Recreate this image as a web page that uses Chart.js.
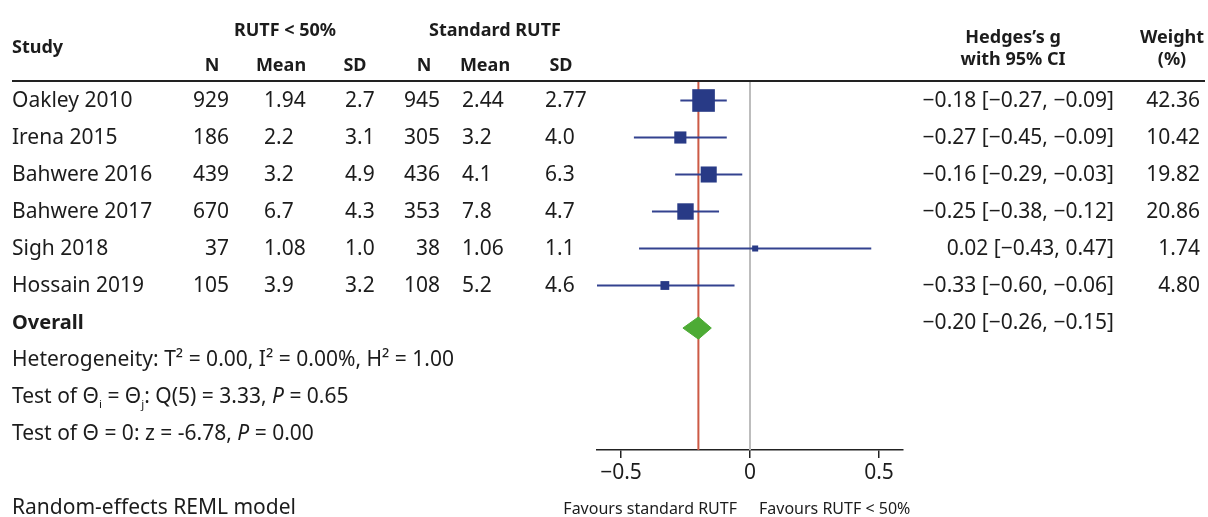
<!DOCTYPE html>
<html>
<head>
<meta charset="utf-8">
<script src="https://cdn.jsdelivr.net/npm/chart.js@4/dist/chart.umd.min.js"></script>
<style>
  html, body { margin: 0; padding: 0; background: #fff; }
  #wrap { width: 1208px; height: 517px; position: relative; }
</style>
</head>
<body>
<div id="wrap"><canvas id="forest" width="1208" height="517"></canvas></div>
<script>
// ---- study data ----
const studies     = ['Oakley 2010', 'Irena 2015', 'Bahwere 2016', 'Bahwere 2017', 'Sigh 2018', 'Hossain 2019'];
const nLow        = ['929', '186', '439', '670', '37', '105'];
const meanLow     = ['1.94', '2.2', '3.2', '6.7', '1.08', '3.9'];
const sdLow       = ['2.7', '3.1', '4.9', '4.3', '1.0', '3.2'];
const nStd        = ['945', '305', '436', '353', '38', '108'];
const meanStd     = ['2.44', '3.2', '4.1', '7.8', '1.06', '5.2'];
const sdStd       = ['2.77', '4.0', '6.3', '4.7', '1.1', '4.6'];
const effect      = [-0.18, -0.27, -0.16, -0.25, 0.02, -0.33];
const ciLow       = [-0.27, -0.45, -0.29, -0.38, -0.43, -0.60];
const ciHigh      = [-0.09, -0.09, -0.03, -0.12, 0.47, -0.06];
const weights     = [42.36, 10.42, 19.82, 20.86, 1.74, 4.80];
const overall     = { es: -0.20, lo: -0.26, hi: -0.15 };
const xTicks      = [-0.5, 0, 0.5];

// ---- layout ----
const W = 1208, H = 517;
const AX_LEFT = 597, AX_RIGHT = 903, AREA_TOP = 81, AXIS_Y = 450;
const ROW0 = 100.5, ROW_H = 37;
const X_MIN = -0.593, X_MAX = 0.593;
const Y_MIN = (AREA_TOP - ROW0) / ROW_H;
const Y_MAX = (AXIS_Y - ROW0) / ROW_H;
const OVERALL_ROW = studies.length;
const DIAMOND_ROW = OVERALL_ROW + 0.15;

const FONT = '"Noto Sans", "Open Sans", sans-serif';
const TXT = '#1c1c1c';
const NAVY = '#283a86';
const CI_COL = '#33428f';

const fmt = v => (v < 0 ? '\u2212' : '') + Math.abs(v).toFixed(2);
const fmtTick = v => v === 0 ? '0' : (v < 0 ? '\u2212' : '') + Math.abs(v).toString();

// marker side in px grows with the square root of the weight
const sidePx = w => 3.2 * Math.sqrt(w) + 1.8;

const datasets = [];

// reference line at no effect
datasets.push({
  type: 'line', data: [{ x: 0, y: Y_MIN }, { x: 0, y: Y_MAX }],
  borderColor: '#bdbdbd', borderWidth: 2, pointRadius: 0, order: 5
});
// line at pooled estimate
datasets.push({
  type: 'line', data: [{ x: overall.es, y: Y_MIN }, { x: overall.es, y: Y_MAX }],
  borderColor: '#cc5a45', borderWidth: 2, pointRadius: 0, order: 4
});
// confidence intervals
studies.forEach((s, i) => {
  datasets.push({
    type: 'line', data: [{ x: ciLow[i], y: i }, { x: ciHigh[i], y: i }],
    borderColor: CI_COL, borderWidth: 2, pointRadius: 0, order: 3
  });
});
// study estimates
datasets.push({
  type: 'scatter',
  data: effect.map((e, i) => ({ x: e, y: i })),
  pointStyle: 'rect',
  pointRadius: weights.map(w => sidePx(w) / (2 * Math.SQRT1_2)),
  backgroundColor: NAVY, borderColor: NAVY, borderWidth: 0, order: 1
});
// pooled estimate diamond
datasets.push({
  type: 'line',
  data: [
    { x: overall.lo, y: DIAMOND_ROW },
    { x: overall.es, y: DIAMOND_ROW - 0.3 },
    { x: overall.hi, y: DIAMOND_ROW },
    { x: overall.es, y: DIAMOND_ROW + 0.3 },
    { x: overall.lo, y: DIAMOND_ROW }
  ],
  borderColor: '#4dab35', backgroundColor: '#4dab35', borderWidth: 1,
  fill: 'shape', pointRadius: 0, tension: 0, order: 0
});

// draws a sequence of text runs (regular / italic / sub)
function drawRuns(ctx, x, y, runs, size) {
  ctx.textAlign = 'left';
  ctx.textBaseline = 'middle';
  for (const r of runs) {
    let sz = size, dy = 0, style = '';
    if (r.sub) { sz = size * 0.55; dy = size * 0.32; }
    if (r.it) style = 'italic ';
    ctx.font = style + sz + 'px ' + FONT;
    ctx.fillText(r.t, x, y + dy);
    x += ctx.measureText(r.t).width;
  }
}

const tablePlugin = {
  id: 'forestTable',
  afterDraw(chart) {
    const ctx = chart.ctx;
    const rowY = i => ROW0 + ROW_H * i + 1;
    ctx.save();
    ctx.fillStyle = TXT;

    // header
    ctx.font = 'bold 18px ' + FONT;
    ctx.textBaseline = 'middle';
    ctx.textAlign = 'left';
    ctx.fillText('Study', 12, 48);
    ctx.textAlign = 'center';
    ctx.fillText('RUTF < 50%', 285, 31);
    ctx.fillText('Standard RUTF', 495, 31);
    ctx.fillText('N', 212, 66);
    ctx.fillText('Mean', 281, 66);
    ctx.fillText('SD', 355, 66);
    ctx.fillText('N', 424, 66);
    ctx.fillText('Mean', 485, 66);
    ctx.fillText('SD', 561, 66);
    ctx.fillText('Hedges\u2019s g', 1013, 38);
    ctx.fillText('with 95% CI', 1013, 60);
    ctx.fillText('Weight', 1172, 38);
    ctx.fillText('(%)', 1172, 60);

    // header rule
    ctx.strokeStyle = '#222';
    ctx.lineWidth = 2;
    ctx.beginPath();
    ctx.moveTo(12, AREA_TOP);
    ctx.lineTo(1205, AREA_TOP);
    ctx.stroke();

    // study rows
    ctx.font = '21px ' + FONT;
    studies.forEach((s, i) => {
      const y = rowY(i);
      ctx.textAlign = 'left';
      ctx.fillText(s, 12, y);
      ctx.textAlign = 'right';
      ctx.fillText(nLow[i], 229, y);
      ctx.textAlign = 'left';
      ctx.fillText(meanLow[i], 264, y);
      ctx.fillText(sdLow[i], 345, y);
      ctx.textAlign = 'right';
      ctx.fillText(nStd[i], 440, y);
      ctx.textAlign = 'left';
      ctx.fillText(meanStd[i], 462, y);
      ctx.fillText(sdStd[i], 545, y);
      ctx.textAlign = 'right';
      ctx.fillText(fmt(effect[i]) + ' [' + fmt(ciLow[i]) + ', ' + fmt(ciHigh[i]) + ']', 1114, y);
      ctx.fillText(weights[i].toFixed(2), 1200, y);
    });

    // overall row
    const oy = rowY(OVERALL_ROW);
    ctx.textAlign = 'left';
    ctx.font = 'bold 20px ' + FONT;
    ctx.fillText('Overall', 12, oy);
    ctx.font = '21px ' + FONT;
    ctx.textAlign = 'right';
    ctx.fillText(fmt(overall.es) + ' [' + fmt(overall.lo) + ', ' + fmt(overall.hi) + ']', 1114, oy);

    // heterogeneity and tests
    drawRuns(ctx, 12, rowY(7), [{ t: 'Heterogeneity: T\u00B2 = 0.00, I\u00B2 = 0.00%, H\u00B2 = 1.00' }], 21);
    drawRuns(ctx, 12, rowY(8), [
      { t: 'Test of \u0398' }, { t: 'i', sub: true }, { t: ' = \u0398' }, { t: 'j', sub: true },
      { t: ': Q(5) = 3.33, ' }, { t: 'P', it: true }, { t: ' = 0.65' }
    ], 21);
    drawRuns(ctx, 12, rowY(9), [
      { t: 'Test of \u0398 = 0: z = -6.78, ' }, { t: 'P', it: true }, { t: ' = 0.00' }
    ], 21);

    ctx.font = '21px ' + FONT;
    ctx.textAlign = 'left';
    ctx.fillText('Random-effects REML model', 12, 508);

    // direction captions
    ctx.font = '16px ' + FONT;
    ctx.textAlign = 'right';
    ctx.fillText('Favours standard RUTF', 737, 509);
    ctx.textAlign = 'left';
    ctx.fillText('Favours RUTF < 50%', 759, 509);
    ctx.restore();
  }
};

new Chart(document.getElementById('forest'), {
  type: 'scatter',
  data: { datasets },
  options: {
    responsive: false,
    animation: false,
    events: [],
    layout: { padding: { left: AX_LEFT, right: W - AX_RIGHT, top: AREA_TOP, bottom: 0 } },
    plugins: { legend: { display: false }, tooltip: { enabled: false } },
    scales: {
      x: {
        type: 'linear', min: X_MIN, max: X_MAX,
        afterBuildTicks: s => { s.ticks = xTicks.map(v => ({ value: v })); },
        afterFit: s => { s.height = H - AXIS_Y; },
        border: { display: true, color: '#222', width: 1.5 },
        grid: { display: true, drawOnChartArea: false, drawTicks: true, tickLength: 8, color: '#222', lineWidth: 1.5 },
        ticks: { callback: v => fmtTick(v), color: TXT, font: { family: FONT, size: 21 }, padding: 2, maxRotation: 0 }
      },
      y: {
        type: 'linear', reverse: true, min: Y_MIN, max: Y_MAX, display: false
      }
    }
  },
  plugins: [tablePlugin]
});
</script>
</body>
</html>
